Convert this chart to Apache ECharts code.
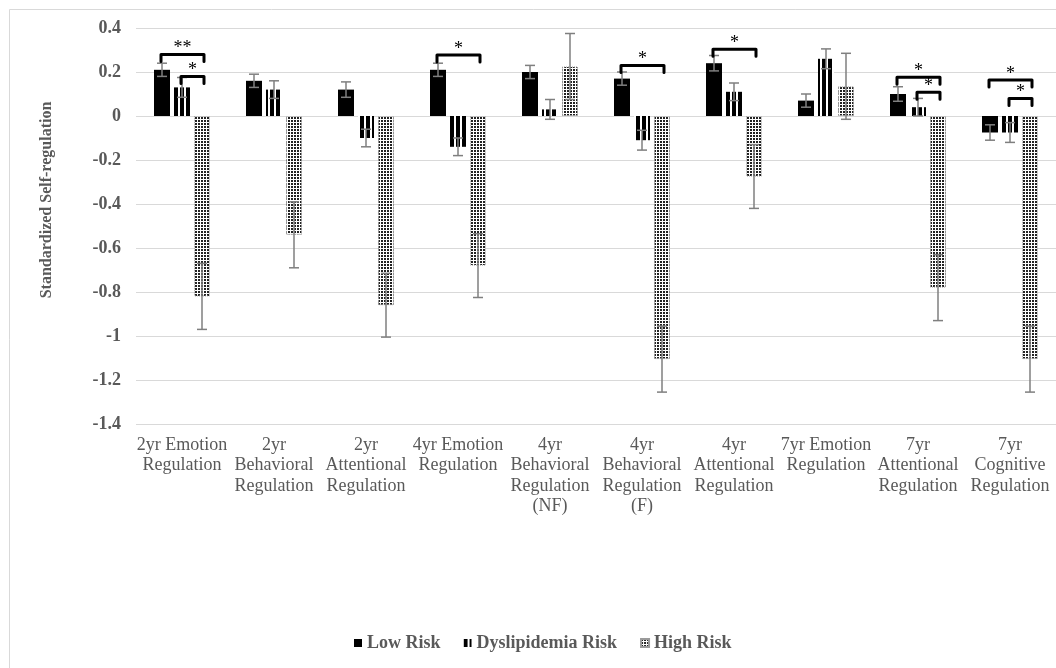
<!DOCTYPE html>
<html>
<head>
<meta charset="utf-8">
<script src="https://cdn.jsdelivr.net/npm/echarts@6/dist/echarts.min.js"></script>
<style>
  html, body { margin: 0; padding: 0; background: #fff; }
  #chart { width: 1056px; height: 668px; }
</style>
</head>
<body>
<div id="chart"></div>
<script>
// data
const categories = [
  '2yr Emotion\nRegulation',
  '2yr\nBehavioral\nRegulation',
  '2yr\nAttentional\nRegulation',
  '4yr Emotion\nRegulation',
  '4yr\nBehavioral\nRegulation\n(NF)',
  '4yr\nBehavioral\nRegulation\n(F)',
  '4yr\nAttentional\nRegulation',
  '7yr Emotion\nRegulation',
  '7yr\nAttentional\nRegulation',
  '7yr\nCognitive\nRegulation'
]
const seriesNames = ['Low Risk', 'Dyslipidemia Risk', 'High Risk']
const lowRisk = [0.21, 0.16, 0.12, 0.21, 0.20, 0.17, 0.24, 0.07, 0.10, -0.075]
const lowErr = [0.03, 0.03, 0.035, 0.03, 0.03, 0.03, 0.035, 0.03, 0.033, 0.035]
const dysRisk = [0.13, 0.12, -0.10, -0.14, 0.03, -0.11, 0.11, 0.26, 0.04, -0.075]
const dysErr = [0.045, 0.04, 0.04, 0.04, 0.045, 0.045, 0.04, 0.045, 0.04, 0.045]
const highRisk = [-0.82, -0.54, -0.86, -0.68, 0.225, -1.105, -0.275, 0.135, -0.78, -1.105]
const highErr = [0.15, 0.15, 0.145, 0.145, 0.15, 0.15, 0.145, 0.15, 0.15, 0.15]
// significance brackets: [category, from bar, to bar, level, label]
const brackets = [
  [0, 0, 2, 0.28, '**'],
  [0, 1, 2, 0.18, '*'],
  [3, 0, 2, 0.277, '*'],
  [5, 0, 2, 0.229, '*'],
  [6, 0, 2, 0.303, '*'],
  [8, 0, 2, 0.176, '*'],
  [8, 1, 2, 0.108, '*'],
  [9, 0, 2, 0.164, '*'],
  [9, 1, 2, 0.08, '*']
]
const yMin = -1.4
const yMax = 0.4
const yStep = 0.2

// style
const textGrey = '#595959'
const serif = '"Liberation Serif", "Times New Roman", serif'
const barW = 16
const barStep = 20 // bar width + gap

// fill patterns
const makeStripes = () => {
  const c = document.createElement('canvas')
  c.width = 6; c.height = 4
  const ctx = c.getContext('2d')
  ctx.fillStyle = '#fff'; ctx.fillRect(0, 0, 6, 4)
  ctx.fillStyle = '#000'; ctx.fillRect(0, 0, 4, 4)
  return c
}
const makeDots = () => {
  const c = document.createElement('canvas')
  c.width = 3; c.height = 3
  const ctx = c.getContext('2d')
  ctx.fillStyle = '#fff'; ctx.fillRect(0, 0, 3, 3)
  ctx.fillStyle = '#222'; ctx.fillRect(0, 0, 2, 2)
  return c
}
const fills = [
  '#000',
  { image: makeStripes(), repeat: 'repeat' },
  { image: makeDots(), repeat: 'repeat' }
]

const values = [lowRisk, dysRisk, highRisk]
const errs = [lowErr, dysErr, highErr]

const barSeries = values.map((arr, i) => ({
  name: seriesNames[i],
  type: 'bar',
  data: arr,
  barWidth: barW,
  barGap: '25%',
  z: 2,
  itemStyle: i === 2
    ? { color: fills[i], borderColor: '#9a9a9a', borderWidth: 1, borderType: 'dotted' }
    : { color: fills[i] }
}))

const errSeries = values.map((arr, i) => ({
  type: 'custom',
  z: 3,
  silent: true,
  data: arr.map((v, k) => [k, v - errs[i][k], v + errs[i][k]]),
  encode: { x: 0, y: [1, 2] },
  renderItem: (params, api) => {
    const lo = api.coord([api.value(0), api.value(1)])
    const hi = api.coord([api.value(0), api.value(2)])
    const x = lo[0] + (i - 1) * barStep
    const cap = 5
    const st = { stroke: '#7f7f7f', lineWidth: 1.5 }
    return {
      type: 'group',
      children: [
        { type: 'line', shape: { x1: x, y1: lo[1], x2: x, y2: hi[1] }, style: st },
        { type: 'line', shape: { x1: x - cap, y1: lo[1], x2: x + cap, y2: lo[1] }, style: st },
        { type: 'line', shape: { x1: x - cap, y1: hi[1], x2: x + cap, y2: hi[1] }, style: st }
      ]
    }
  }
}))

const bracketSeries = {
  type: 'custom',
  z: 4,
  silent: true,
  data: brackets.map(b => [b[0], b[3], b[1], b[2]]),
  encode: { x: 0, y: 1 },
  renderItem: (params, api) => {
    const b = brackets[params.dataIndex]
    const p = api.coord([api.value(0), api.value(1)])
    const x1 = p[0] + (b[1] - 1) * barStep - 1
    const x2 = p[0] + (b[2] - 1) * barStep + 2
    const y = p[1]
    return {
      type: 'group',
      children: [
        {
          type: 'polyline',
          shape: { points: [[x1, y + 7], [x1, y], [x2, y], [x2, y + 7]] },
          style: { stroke: '#000', lineWidth: 3, fill: null, lineJoin: 'round', lineCap: 'round' }
        },
        {
          type: 'text',
          style: {
            x: (x1 + x2) / 2, y: y - 6, text: b[4],
            font: '18px ' + serif, fill: '#000',
            align: 'center', verticalAlign: 'middle'
          }
        }
      ]
    }
  }
}

const chart = echarts.init(document.getElementById('chart'))
chart.setOption({
  animation: false,
  backgroundColor: '#fff',
  graphic: [{
    type: 'rect',
    shape: { x: 9.5, y: 9.5, width: 1100, height: 700 },
    style: { fill: null, stroke: '#d9d9d9', lineWidth: 1 },
    silent: true
  }],
  grid: { left: 136, top: 28, width: 923, height: 396, containLabel: false },
  legend: {
    data: seriesNames,
    left: 349,
    top: 629,
    icon: 'rect',
    itemWidth: 8,
    itemHeight: 8,
    itemGap: 23,
    textStyle: { color: textGrey, fontFamily: serif, fontWeight: 'bold', fontSize: 18 }
  },
  xAxis: {
    type: 'category',
    data: categories,
    axisLine: { show: false, onZero: false },
    axisTick: { show: false },
    axisLabel: {
      interval: 0,
      margin: 11,
      color: textGrey,
      fontFamily: serif,
      fontSize: 18,
      lineHeight: 20.5
    }
  },
  yAxis: {
    type: 'value',
    min: yMin,
    max: yMax,
    interval: yStep,
    name: 'Standardized Self-regulation',
    nameLocation: 'middle',
    nameGap: 81,
    nameTextStyle: {
      color: textGrey, fontFamily: serif, fontWeight: 'bold', fontSize: 16,
      padding: [0, 0, 0, 52]
    },
    axisLine: { show: false },
    axisTick: { show: false },
    splitLine: { lineStyle: { color: '#d9d9d9', width: 1 } },
    axisLabel: {
      margin: 15,
      color: textGrey,
      fontFamily: serif,
      fontWeight: 'bold',
      fontSize: 18,
      formatter: v => String(+v.toFixed(1))
    }
  },
  series: [...barSeries, ...errSeries, bracketSeries]
})
</script>
</body>
</html>
